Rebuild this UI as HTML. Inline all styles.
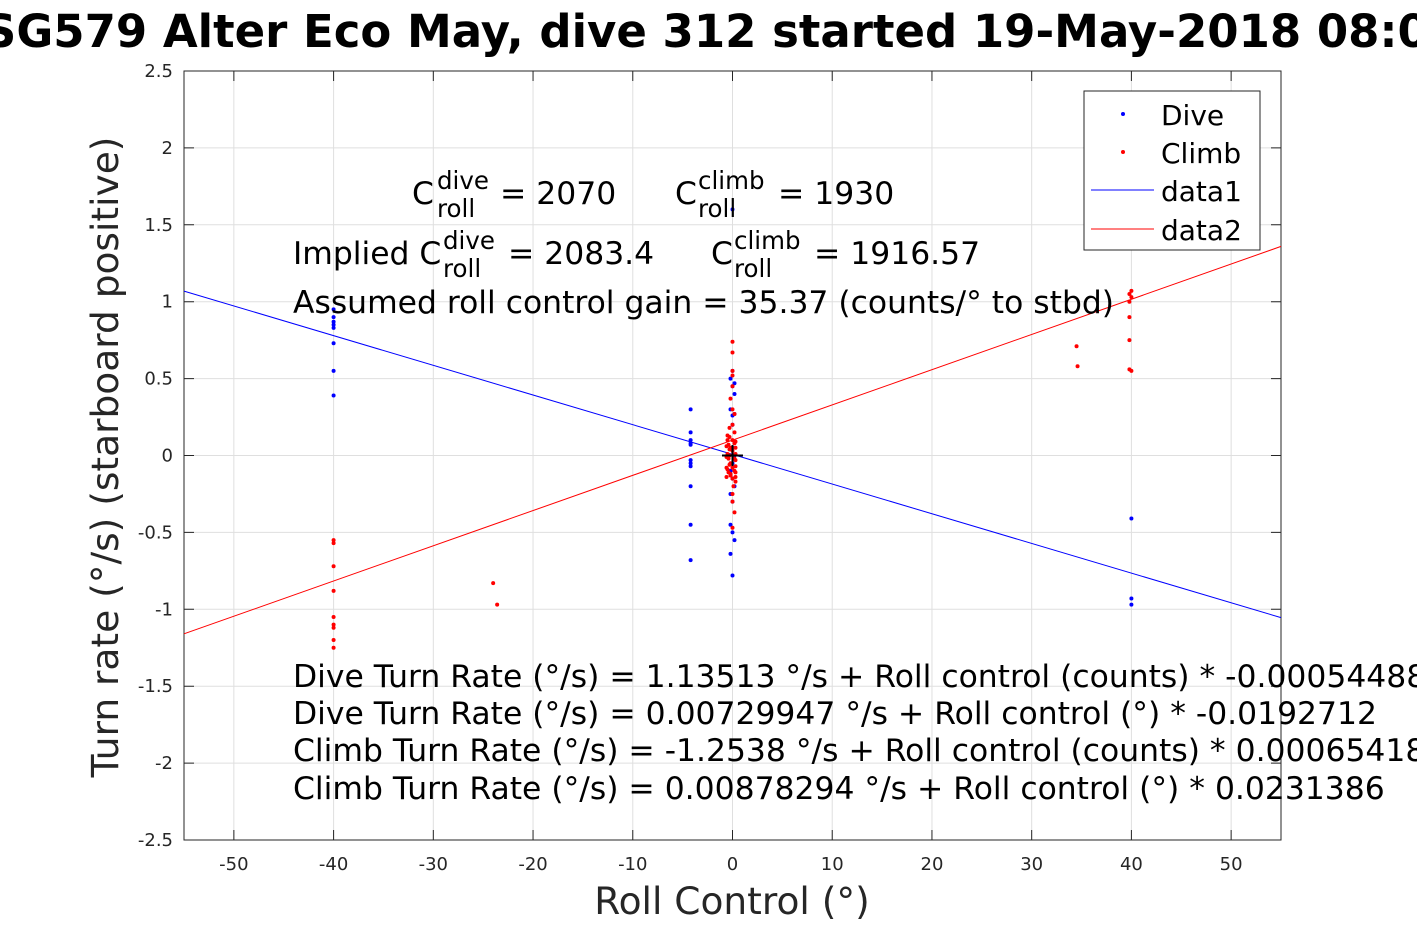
<!DOCTYPE html>
<html><head><meta charset="utf-8"><style>
html,body{margin:0;padding:0;background:#fff;width:1417px;height:945px;overflow:hidden}
svg{font-family:"DejaVu Sans","Liberation Sans",sans-serif}
</style></head><body>
<svg id="chart" width="1417" height="945" viewBox="0 0 1417 945">
<text x="722" y="47" text-anchor="middle" font-size="45" font-weight="bold">SG579 Alter Eco May, dive 312 started 19-May-2018 08:05</text>
<g id="grid"></g>
<g id="axes"></g>
<g id="lines"></g>
<g id="pts"></g>
<path d="M722 455.5H743M732.5 445V466" stroke="#000" stroke-width="2"/>
<g font-size="31.4">
<text x="412" y="204">C</text><text x="437" y="189" font-size="24.5">dive</text><text x="437" y="217" font-size="24.5">roll</text><text x="500" y="204">= 2070</text>
<text x="675" y="204">C</text><text x="698" y="189" font-size="24.5">climb</text><text x="698" y="217" font-size="24.5">roll</text><text x="778" y="204">= 1930</text>
<text x="293" y="264">Implied C</text><text x="443" y="249" font-size="24.5">dive</text><text x="443" y="277" font-size="24.5">roll</text><text x="508" y="264">= 2083.4</text>
<text x="711" y="264">C</text><text x="734" y="249" font-size="24.5">climb</text><text x="734" y="277" font-size="24.5">roll</text><text x="814" y="264">= 1916.57</text>
<text x="293" y="313">Assumed roll control gain = 35.37 (counts/° to stbd)</text>
<text x="293" y="687">Dive Turn Rate (°/s) = 1.13513 °/s + Roll control (counts) * -0.000544888</text>
<text x="293" y="724">Dive Turn Rate (°/s) = 0.00729947 °/s + Roll control (°) * -0.0192712</text>
<text x="293" y="761">Climb Turn Rate (°/s) = -1.2538 °/s + Roll control (counts) * 0.000654185</text>
<text x="293" y="799">Climb Turn Rate (°/s) = 0.00878294 °/s + Roll control (°) * 0.0231386</text>
</g>
<g>
<rect x="1084" y="91" width="176" height="159" fill="#fff" stroke="#262626" stroke-width="1"/>
<circle cx="1123" cy="114" r="2" fill="#00f"/><text x="1161" y="125" font-size="28">Dive</text>
<circle cx="1123" cy="152" r="2" fill="#f00"/><text x="1161" y="163" font-size="28">Climb</text>
<line x1="1091" y1="190" x2="1154" y2="190" stroke="#00f"/><text x="1161" y="201" font-size="28">data1</text>
<line x1="1091" y1="229" x2="1154" y2="229" stroke="#f00"/><text x="1161" y="240" font-size="28">data2</text>
</g>
<text x="732" y="914" text-anchor="middle" font-size="37.5" fill="#262626">Roll Control (°)</text>
<text transform="translate(118,457) rotate(-90)" text-anchor="middle" font-size="37.5" fill="#262626">Turn rate (°/s) (starboard positive)</text>
</svg>
<script>
const xTicks=[-50,-40,-30,-20,-10,0,10,20,30,40,50];
const yTicks=[2.5,2,1.5,1,0.5,0,-0.5,-1,-1.5,-2,-2.5];
const diveX=[-40,-40,-40,-40,-40,-40,-40,-40,-4.2,-4.2,-4.2,-4.2,-4.2,-4.2,-4.2,-4.2,-4.2,-4.2,-4.2,0,0,-0.2,0.2,0,0.2,-0.2,0.2,0,0,0,0.2,0,-0.2,0,0.2,-0.2,0,-0.2,0,0.2,-0.2,0,40,40,40];
const diveY=[0.95,0.9,0.87,0.85,0.83,0.73,0.55,0.39,0.3,0.15,0.1,0.08,0.07,-0.03,-0.05,-0.07,-0.2,-0.45,-0.68,1.6,0.55,0.5,0.47,0.45,0.4,0.3,0.27,0.26,0.2,0.05,0,-0.05,-0.1,-0.15,-0.2,-0.25,-0.3,-0.45,-0.5,-0.55,-0.64,-0.78,-0.41,-0.93,-0.97];
const climbX=[-40,-40,-40,-40,-40,-40,-40,-40,-40,-24,-23.6,0,0,0,0,0,-0.2,0,0.2,0,-0.3,0.2,-0.3,0,0.2,-0.2,0,-0.3,0.2,-0.2,0,0.2,-0.2,0,0.1,0,0,0.2,0,-0.5,-0.4,-0.3,-0.5,-0.4,-0.3,-0.5,-0.4,-0.2,-0.5,0.3,0.3,0.3,0.3,0.3,0.3,0.3,0.3,-0.6,-0.6,-0.6,-0.6,34.5,34.6,40,39.8,40,39.8,39.8,39.8,39.8,40];
const climbY=[-0.55,-0.57,-0.72,-0.88,-1.05,-1.1,-1.12,-1.2,-1.25,-0.83,-0.97,0.74,0.67,0.55,0.52,0.45,0.37,0.3,0.27,0.2,0.18,0.15,0.12,0.1,0.08,0.05,0.03,0,-0.02,-0.05,-0.08,-0.1,-0.12,-0.15,-0.2,-0.25,-0.3,-0.37,-0.47,0.1,0.07,0.04,0.01,-0.02,-0.06,-0.09,-0.11,-0.13,0.13,0.09,0.05,0.01,-0.03,-0.07,-0.11,-0.14,-0.17,0.06,-0.01,-0.08,-0.14,0.71,0.58,1.07,1.05,1.03,1.0,0.9,0.75,0.56,0.55];
const fitX=[-55,55];
const diveFit=[0.0073,-0.0193];
const climbFit=[0.1,0.0229];
const L=184,R=1281,T=71,B=840,xmin=-55,xmax=55,ymin=-2.5,ymax=2.5;
const sx=v=>L+(v-xmin)/(xmax-xmin)*(R-L);
const sy=v=>B-(v-ymin)/(ymax-ymin)*(B-T);
const NS="http://www.w3.org/2000/svg";
function mk(tag,attrs,parent){const e=document.createElementNS(NS,tag);for(const k in attrs)e.setAttribute(k,attrs[k]);document.getElementById(parent).appendChild(e);return e;}
xTicks.forEach(t=>{
 const g=mk('line',{x1:sx(t),x2:sx(t),y1:T,y2:B,stroke:'#dfdfdf'},'grid');
 
 
 const k=mk('path',{d:`M${sx(t)} ${B}v-10M${sx(t)} ${T}v10`,stroke:'#262626'},'axes');
 
 
 const lb=mk('text',{x:sx(t),y:B+30,'text-anchor':'middle','font-size':'18',fill:'#262626'},'axes');
 lb.textContent=t;
 
 
});
yTicks.forEach(t=>{
 const g=mk('line',{x1:L,x2:R,y1:sy(t),y2:sy(t),stroke:'#dfdfdf'},'grid');
 
 
 const k=mk('path',{d:`M${L} ${sy(t)}h10M${R} ${sy(t)}h-10`,stroke:'#262626'},'axes');
 
 
 const lb=mk('text',{x:L-11,y:sy(t)+6,'text-anchor':'end','font-size':'18',fill:'#262626'},'axes');
 lb.textContent=t;
 
 
});
const box=mk('rect',{x:L,y:T,width:R-L,height:B-T,fill:'none',stroke:'#262626'},'axes');


const l1=mk('line',{x1:sx(fitX[0]),y1:sy(diveFit[0]+diveFit[1]*fitX[0]),x2:sx(fitX[1]),y2:sy(diveFit[0]+diveFit[1]*fitX[1]),stroke:'#00f'},'lines');


const l2=mk('line',{x1:sx(fitX[0]),y1:sy(climbFit[0]+climbFit[1]*fitX[0]),x2:sx(fitX[1]),y2:sy(climbFit[0]+climbFit[1]*fitX[1]),stroke:'#f00'},'lines');


diveX.forEach((x,i)=>{
 const c=mk('circle',{cx:sx(x),cy:sy(diveY[i]),r:2,fill:'#00f'},'pts');
 
 
});
climbX.forEach((x,i)=>{
 const c=mk('circle',{cx:sx(x),cy:sy(climbY[i]),r:2,fill:'#f00'},'pts');
 
 
});
</script>
</body></html>
